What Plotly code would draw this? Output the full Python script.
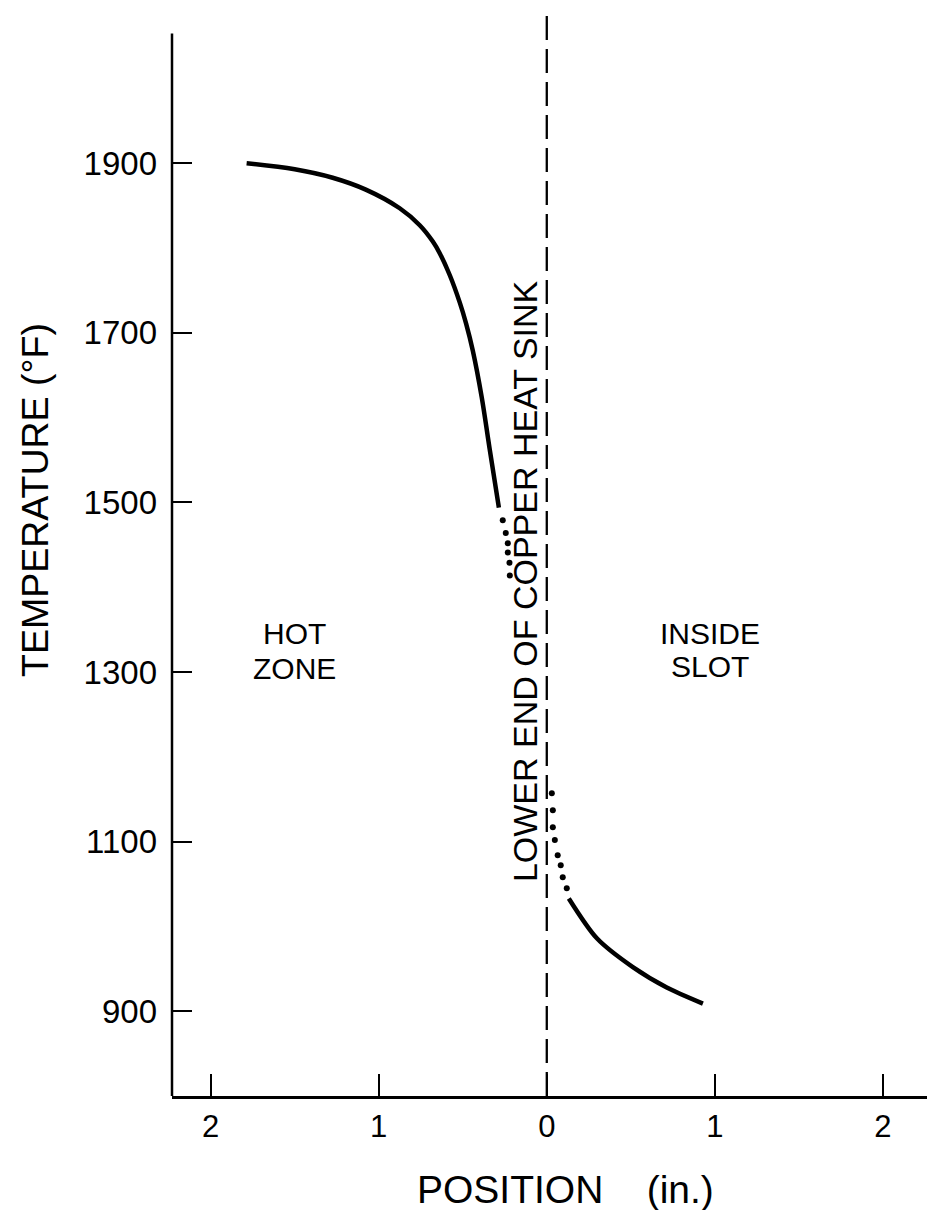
import plotly.graph_objects as go

# ---- data ----
hot_solid_x = [-1.786, -1.5, -1.274, -1.077, -0.875, -0.756, -0.679, -0.637, -0.577, -0.518, -0.48, -0.44, -0.387, -0.339, -0.285]
hot_solid_t = [1900, 1893, 1883, 1869, 1847, 1827, 1808, 1794, 1768, 1736, 1711, 1679, 1624, 1562, 1494]

hot_dot_x = [-0.262, -0.244, -0.232, -0.232, -0.222, -0.22]
hot_dot_t = [1479, 1464, 1452, 1441, 1429, 1414]

slot_dot_x = [0.03, 0.036, 0.036, 0.048, 0.065, 0.083, 0.095, 0.119]
slot_dot_t = [1157, 1137, 1117, 1102, 1084, 1072, 1058, 1045]

slot_solid_x = [0.131, 0.298, 0.512, 0.714, 0.929]
slot_solid_t = [1033, 986, 952, 928, 909]

heat_sink_x = 0.0

x_tickvals = [-2, -1, 0, 1, 2]
x_ticktext = ["2", "1", "0", "1", "2"]
y_tickvals = [900, 1100, 1300, 1500, 1700, 1900]
y_ticktext = ["900", "1100", "1300", "1500", "1700", "1900"]

X_RANGE = [-2.23, 2.31]
Y_RANGE = [800, 2082]
Y_AXIS_TOP = 2053
FONT = "Liberation Sans, Arial, sans-serif"

# page body adds an 8px offset; compensate so the plot area lands where the reference has it
W, H = 927, 1202
ML, MR, MT, MB = 164, 0, 1, 114
PW = W - ML - MR
PH = H - MT - MB

fig = go.Figure()

# dashed line: lower end of copper heat sink
fig.add_trace(go.Scatter(
    x=[heat_sink_x, heat_sink_x], y=[Y_RANGE[0], Y_RANGE[1]],
    mode="lines", line=dict(color="black", width=2.3, dash="24px,9px"),
    showlegend=False, hoverinfo="skip"))

fig.add_trace(go.Scatter(
    x=hot_solid_x, y=hot_solid_t, mode="lines",
    line=dict(color="black", width=4.5, shape="spline", smoothing=1.0), showlegend=False))
fig.add_trace(go.Scatter(
    x=hot_dot_x, y=hot_dot_t, mode="markers",
    marker=dict(color="black", size=6), showlegend=False))
fig.add_trace(go.Scatter(
    x=slot_dot_x, y=slot_dot_t, mode="markers",
    marker=dict(color="black", size=6), showlegend=False))
fig.add_trace(go.Scatter(
    x=slot_solid_x, y=slot_solid_t, mode="lines",
    line=dict(color="black", width=4.5, shape="spline", smoothing=0.8), showlegend=False))

# y axis line (stops short of the top)
fig.add_shape(type="line", xref="paper", yref="y", x0=0, x1=0, y0=Y_RANGE[0], y1=Y_AXIS_TOP,
              line=dict(color="black", width=2.5))

def ann(text, x, y, size, angle=0):
    fig.add_annotation(text=text, x=x, y=y, xref="x", yref="y", showarrow=False,
                       textangle=angle, xanchor="center", yanchor="middle",
                       font=dict(family=FONT, size=size, color="black"))

ann("HOT", -1.5, 1345, 30)
ann("ZONE", -1.5, 1304, 30)
ann("INSIDE", 0.97, 1346, 30)
ann("SLOT", 0.97, 1307, 30)
ann("LOWER END OF COPPER HEAT SINK", -0.125, 1407, 34, angle=-90)

# axis titles placed by pixel position in the reference
def px_x(p):
    return (p - 172) / PW

def px_y(p):
    return (1096 - p) / PH

fig.add_annotation(text="TEMPERATURE (°F)", xref="paper", yref="paper",
                   x=px_x(35), y=px_y(500), showarrow=False,
                   textangle=-90, xanchor="center", yanchor="middle",
                   font=dict(family=FONT, size=37.5, color="black"))
fig.add_annotation(text="POSITION&nbsp;&nbsp;&nbsp;&nbsp;(in.)", xref="paper", yref="paper",
                   x=px_x(565), y=px_y(1189), showarrow=False,
                   xanchor="center", yanchor="middle",
                   font=dict(family=FONT, size=39, color="black"))

fig.update_layout(
    width=W, height=H,
    margin=dict(l=ML, r=MR, t=MT, b=MB),
    paper_bgcolor="white", plot_bgcolor="white",
    font=dict(family=FONT, color="black"),
    xaxis=dict(range=X_RANGE, showgrid=False, zeroline=False,
               showline=True, linecolor="black", linewidth=2.5,
               ticks="inside", ticklen=22, tickwidth=2, tickcolor="black",
               tickvals=x_tickvals, ticktext=x_ticktext,
               tickfont=dict(size=31, family=FONT, color="black"),
               ticklabelstandoff=1),
    yaxis=dict(range=Y_RANGE, showgrid=False, zeroline=False, showline=False,
               ticks="inside", ticklen=20, tickwidth=2, tickcolor="black",
               tickvals=y_tickvals, ticktext=y_ticktext,
               tickfont=dict(size=33, family=FONT, color="black"),
               ticklabelstandoff=14),
)

fig.write_html("out.html")
